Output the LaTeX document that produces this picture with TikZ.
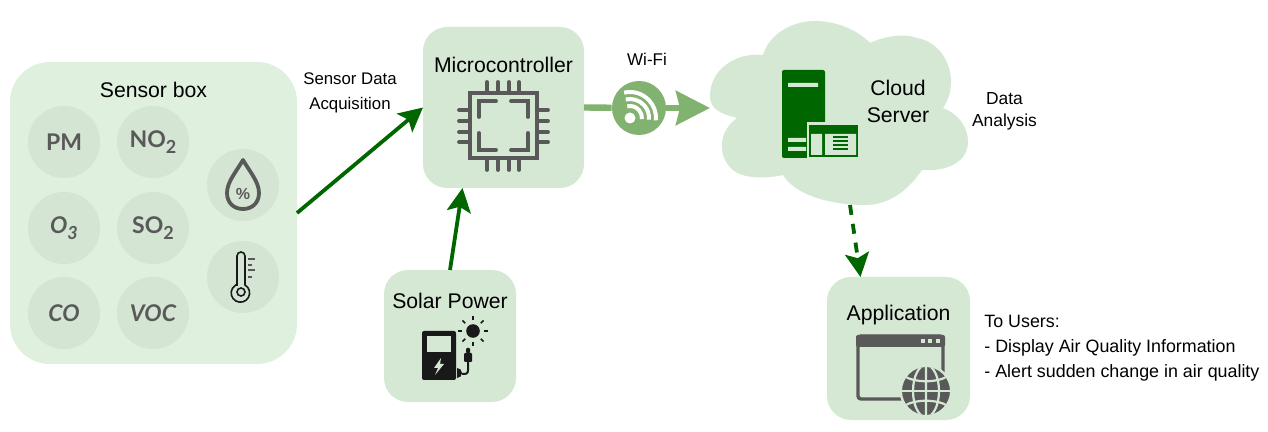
\documentclass[tikz,border=0pt]{standalone}
\usepackage{fontspec}
\setmainfont{Liberation Sans}
\newfontfamily\gasfont{Lato}
\usetikzlibrary{arrows.meta,calc}
\definecolor{boxpale}{HTML}{DFF0DF}
\definecolor{boxgreen}{HTML}{D5E8D4}
\definecolor{gascircle}{HTML}{D4E5D4}
\definecolor{icongray}{HTML}{595959}
\definecolor{wifigreen}{HTML}{82B270}
\definecolor{darkgreen}{HTML}{006600}
\newcommand{\subn}[1]{\raisebox{-.5ex}{\small #1}}

\begin{document}
\begin{tikzpicture}[
    x=0.5pt, y=-0.5pt,
    kasse/.style={rectangle, rounded corners=12pt, fill=boxgreen, inner sep=0pt, outer sep=0pt},
    gas/.style={circle, fill=gascircle, minimum size=36pt, inner sep=0pt, text=icongray, font=\fontsize{11.5}{13}\selectfont\gasfont\bfseries},
    titel/.style={font=\fontsize{10.6}{13}\selectfont, inner sep=0pt, align=center},
    note/.style={font=\fontsize{8.5}{12.5}\selectfont, inner sep=0pt},
    link/.style={draw=darkgreen, line width=1.9pt, -{Stealth[length=12pt,width=12pt,inset=2.5pt]}},
    chip/.style={draw=icongray, line width=1.9pt, line cap=round},
    ]
    \useasboundingbox (0,0) rectangle (1268,432);

%boxes
\node[kasse, fill=boxpale, rounded corners=20pt, minimum width=143.5pt, minimum height=151pt] (sensorbox) at (153.5,213) {};
\node[kasse, minimum width=80.5pt, minimum height=80.5pt] (mcu) at (503.5,107.5) {};
\node[kasse, minimum width=66pt, minimum height=66pt] (solar) at (450,336) {};
\node[kasse, minimum width=71.5pt, minimum height=71.5pt] (app) at (898.5,348.5) {};

%cloud
\fill[boxgreen] (737,118) .. controls (722,114) and (710,110) .. (710,96)
    .. controls (710,70) and (735,52) .. (763,55)
    .. controls (770,32) and (795,20) .. (818,21)
    .. controls (840,22) and (860,32) .. (870,43)
    .. controls (885,36) and (905,33) .. (917,38)
    .. controls (945,42) and (962,80) .. (943,108)
    .. controls (960,115) and (968,128) .. (968,142)
    .. controls (968,160) and (950,172) .. (922,170)
    .. controls (905,195) and (885,205) .. (865,205)
    .. controls (830,205) and (795,195) .. (783,175)
    .. controls (770,178) and (745,180) .. (733,170)
    .. controls (718,158) and (717,132) .. (737,118) -- cycle;
\coordinate (cloudin) at (710,108);
\coordinate (cloudout) at (850,205);

%sensors
\node[titel] (sensortitle) at (153.5,90) {Sensor box};
\node[gas] (pm) at (64,142) {PM};
\node[gas] (no) at (153,142) {NO\subn{2}};
\node[gas] (ozone) at (64,228) {\itshape O\subn{3}};
\node[gas] (so) at (153,228) {SO\subn{2}};
\node[gas] (co) at (64,313) {\itshape CO};
\node[gas] (voc) at (153,313) {\itshape VOC};
\node[gas] (humid) at (243,185) {};
\node[gas] (temp) at (243,277) {};

\draw[icongray, line width=1.9pt, line join=round] (243,160) .. controls (236,172) and (227,182) .. (227,193)
    .. controls (227,203) and (234,209) .. (243,209)
    .. controls (252,209) and (259,203) .. (259,193)
    .. controls (259,182) and (250,172) .. (243,160) -- cycle;
\node[text=icongray, inner sep=0pt, font=\fontsize{8}{9}\selectfont\bfseries] (pct) at (243,194) {\%};

\draw[black!90, line width=.8pt] (237,285) -- (237,256) arc[start angle=180, end angle=0, radius=2pt] -- (245,285)
    arc[start angle=60, end angle=-240, radius=4.6pt] -- cycle;
\draw[black!90, line width=.8pt] (241,292) circle[radius=2pt];
\foreach \y/\xe in {259/255,265/252,270/255,277/252}
    \draw[icongray, line width=.8pt] (248,\y) -- (\xe,\y);

%microcontroller
\node[titel] (mcutitle) at (503.5,65) {Microcontroller};
\draw[chip] (470,93) rectangle (537,158);
\foreach \x in {487,498,509,519}
    \draw[chip] (\x,82) -- (\x,93) (\x,158) -- (\x,170);
\foreach \y in {110,121,132,142}
    \draw[chip] (459,\y) -- (470,\y) (537,\y) -- (548,\y);
\draw[chip] (496,101) -- (479,101) -- (479,117) (511,101) -- (528,101) -- (528,117)
    (496,150) -- (479,150) -- (479,133) (511,150) -- (528,150) -- (528,133);

%wifi
\node[circle, fill=wifigreen, minimum size=27pt, inner sep=0pt] (wifi) at (639,108) {};
\draw[wifigreen, line width=3.2pt] (mcu.east) -- (wifi);
\draw[wifigreen, line width=3.2pt, -{Stealth[length=17pt,width=17pt,inset=2pt]}] (wifi) -- (cloudin);
\node[circle, fill=white, minimum size=5.5pt, inner sep=0pt] (wifidot) at (630,118) {};
\foreach \r in {6,9.5,13}
    \draw[white, line width=2pt] ([shift={(103:\r pt)}]wifidot.center) arc[start angle=103, end angle=-5, radius=\r pt];
\node[note] (wifilabel) at (647,59) {Wi-Fi};

%server
\fill[darkgreen, rounded corners=1pt] (782,70) rectangle (825,158);
\fill[boxgreen] (788,83) rectangle (818,87) (788,138) rectangle (806,142) (788,147) rectangle (806,151);
\fill[boxgreen] (807,122) rectangle (860,159);
\fill[darkgreen] (809,125) rectangle (858,157);
\fill[boxgreen] (811,134) rectangle (822,155) (825,134) rectangle (856,155);
\foreach \y in {137,141,145,149}
    \draw[darkgreen, line width=.9pt] (833,\y) -- (848,\y);
\node[titel] (cloudtitle) at (898,101) {Cloud\\[.5pt]Server};
\node[note, align=center, font=\fontsize{8.7}{11}\selectfont] (analysis) at (1004.5,111) {Data\\Analysis};

%solar
\node[titel] (solartitle) at (450,301) {Solar Power};
\fill[black!90, rounded corners=1pt] (422,331) rectangle (456,380);
\fill[boxgreen] (427,336) rectangle (451,352);
\fill[boxgreen] (441,358) -- (434,368) -- (438,368) -- (435,375) -- (444,364) -- (440,364) -- cycle;
\fill[black!90] (473,331) circle[radius=3.4pt];
\foreach \a in {0,45,...,315}
    \draw[black!90, line width=.8pt] ([shift={(\a:5.5pt)}]473,331) -- ([shift={(\a:7.5pt)}]473,331);
\fill[black!90, rounded corners=.5pt] (464,353) rectangle (472,362) (466,348) rectangle (470,353);
\draw[black!90, line width=1pt] (468,362) -- (468,370) .. controls (468,374) and (466,374) .. (462,374);
\fill[black!90] (457,368) arc[start angle=90, end angle=-90, radius=2.5pt] -- cycle;

%application
\node[titel] (apptitle) at (898.5,315) {Application};
\draw[icongray, line width=1.7pt, rounded corners=1.5pt] (858,336) rectangle (943,399);
\fill[icongray, rounded corners=1pt] (856,335) rectangle (945,347);
\foreach \x in {923,930,938}
    \fill[boxgreen] (\x-2,339) rectangle (\x+2,343);
\fill[icongray, draw=boxgreen, line width=1.2pt] (926,391) circle[radius=12.6pt];
\begin{scope}
\clip (926,391) circle[radius=12pt];
\draw[boxgreen, line width=1.1pt] (926,367) -- (926,415) (926,391) ellipse[x radius=6.5pt, y radius=13pt];
\draw[boxgreen, line width=1.1pt] (902,391) -- (950,391);
\draw[boxgreen, line width=1.1pt] (904,376) .. controls (915,383) and (937,383) .. (948,376)
    (904,406) .. controls (915,399) and (937,399) .. (948,406);
\end{scope}

%text
\node[note, align=center, font=\fontsize{8.4}{12.5}\selectfont] (acq) at (350,93) {Sensor Data\\Acquisition};
\node[note, align=left, anchor=west, font=\fontsize{8.93}{12.6}\selectfont] (users) at (984,348) {To Users:\\- Display Air Quality Information\\- Alert sudden change in air quality};

%connectors
\draw[link] (sensorbox.east) -- (mcu.west);
\draw[link] (solar.north) -- (mcu.243);
\draw[link, dash pattern=on 5pt off 4.5pt] (cloudout) -- (app.118);
\end{tikzpicture}
\end{document}
